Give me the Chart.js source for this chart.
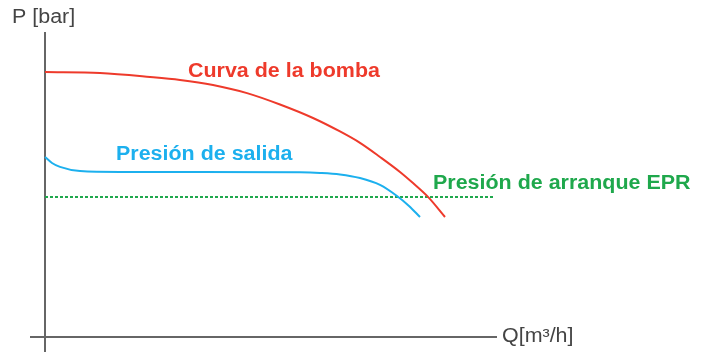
<!DOCTYPE html>
<html>
<head>
<meta charset="utf-8">
<script src="https://cdn.jsdelivr.net/npm/chart.js@4.4.1/dist/chart.umd.min.js"></script>
<style>
  html, body { margin: 0; padding: 0; background: #ffffff; }
  #wrap { width: 708px; height: 354px; }
</style>
</head>
<body>
<div id="wrap"><canvas id="chart" width="708" height="354"></canvas></div>
<script>
// values (Q in arbitrary flow units, P in arbitrary pressure units)
const pumpQ = [0, 13.75, 26.25, 33.75, 42, 50.5, 58.75, 67, 73.75, 78.75, 83.75, 88.75, 92, 95.75, 100];
const pumpP = [8.83, 8.8, 8.67, 8.57, 8.4, 8.13, 7.75, 7.3, 6.85, 6.47, 6.0, 5.5, 5.13, 4.67, 4.0];

const outletQ = [0, 1.75, 3.75, 8.75, 18.75, 38.75, 63.75, 68.75, 73.75, 78.75, 83.75, 88, 91, 93.75];
const outletP = [6.0, 5.8, 5.67, 5.53, 5.5, 5.5, 5.49, 5.47, 5.42, 5.3, 5.07, 4.7, 4.37, 4.0];

const startQ = [0, 112.5];
const startP = [4.67, 4.67];

const seriesNames = ['Curva de la bomba', 'Presión de salida', 'Presión de arranque EPR'];
const axisTitles = ['P [bar]', 'Q[m³/h]'];

function pts(xs, ys) {
    return xs.map(function (x, i) { return { x: x, y: ys[i] }; });
}

const RED = '#ee3a2b';
const BLUE = '#1cb0ee';
const GREEN = '#1fa84c';
const GREY = '#666666';

// axis lines and text labels, drawn with the chart's own scales
const decor = {
    id: 'decor',
    beforeDatasetsDraw(chart) {
        const ctx = chart.ctx;
        const xs = chart.scales.x, ys = chart.scales.y;
        ctx.save();
        ctx.strokeStyle = GREY;
        ctx.lineWidth = 2;
        ctx.beginPath();
        ctx.moveTo(xs.getPixelForValue(0), ys.getPixelForValue(-0.5));
        ctx.lineTo(xs.getPixelForValue(0), ys.getPixelForValue(10.17));
        ctx.moveTo(xs.getPixelForValue(-3.75), ys.getPixelForValue(0));
        ctx.lineTo(xs.getPixelForValue(113), ys.getPixelForValue(0));
        ctx.stroke();
        ctx.restore();
    },
    afterDatasetsDraw(chart) {
        const ctx = chart.ctx;
        const xs = chart.scales.x, ys = chart.scales.y;
        function label(text, q, p, color, bold) {
            ctx.save();
            ctx.translate(xs.getPixelForValue(q), ys.getPixelForValue(p));
            ctx.scale(1.1, 1);
            ctx.font = (bold ? 'bold ' : '') + '19.5px "Liberation Sans", Arial, sans-serif';
            ctx.fillStyle = color;
            ctx.textAlign = 'left';
            ctx.textBaseline = 'middle';
            ctx.fillText(text, 0, 0);
            ctx.restore();
        }
        label(seriesNames[0], 35.75, 8.83, RED, true);
        label(seriesNames[1], 17.75, 6.07, BLUE, true);
        label(seriesNames[2], 97, 5.1, GREEN, true);
        label(axisTitles[0], -8.25, 10.63, '#444444', false);
        label(axisTitles[1], 114.25, 0, '#444444', false);
    }
};

new Chart(document.getElementById('chart'), {
    type: 'line',
    data: {
        datasets: [
            {
                label: seriesNames[0],
                data: pts(pumpQ, pumpP),
                borderColor: RED,
                borderWidth: 2,
                pointRadius: 0,
                cubicInterpolationMode: 'monotone'
            },
            {
                label: seriesNames[1],
                data: pts(outletQ, outletP),
                borderColor: BLUE,
                borderWidth: 2,
                pointRadius: 0,
                cubicInterpolationMode: 'monotone'
            },
            {
                label: seriesNames[2],
                data: pts(startQ, startP),
                borderColor: GREEN,
                borderWidth: 2,
                borderDash: [3, 2],
                pointRadius: 0
            }
        ]
    },
    options: {
        responsive: false,
        animation: false,
        layout: { padding: 0 },
        plugins: { legend: { display: false }, tooltip: { enabled: false } },
        scales: {
            x: { type: 'linear', display: false, min: -11.25, max: 165.75 },
            y: { type: 'linear', display: false, min: -0.567, max: 11.233 }
        }
    },
    plugins: [decor]
});
</script>
</body>
</html>
